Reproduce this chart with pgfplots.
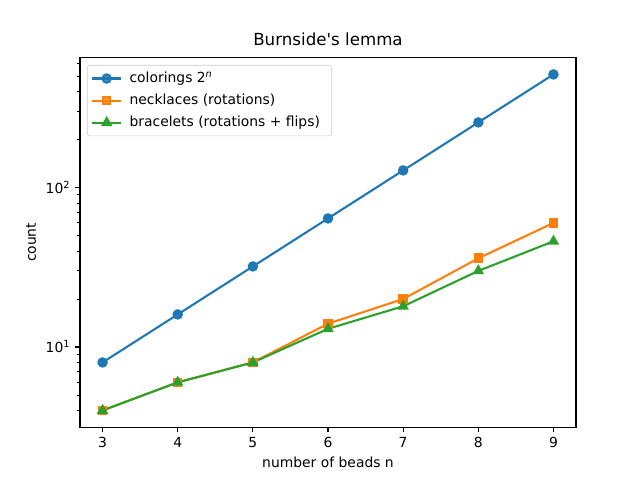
\documentclass[border=0pt]{standalone}
\usepackage{pgfplots}
\pgfplotsset{compat=1.18}
\usepackage{fontspec}
\setmainfont{DejaVu Sans}
\definecolor{tabblue}{HTML}{1F77B4}
\definecolor{taborange}{HTML}{FF7F0E}
\definecolor{tabgreen}{HTML}{2CA02C}
\begin{document}
\begin{tikzpicture}
\begin{axis}[
    scale only axis,
    width=357.12pt, height=266.11pt,
    ymode=log,
    xmin=2.7, xmax=9.3,
    ymin=3.14, ymax=653,
    xtick={3,4,5,6,7,8,9},
    ytick={10,100},
    yticklabels={10\textsuperscript{1},10\textsuperscript{2}},
    minor ytick={4,5,6,7,8,9,20,30,40,50,60,70,80,90,200,300,400,500,600},
    /pgf/number format/assume math mode=true,
    tick align=outside,
    tick pos=left,
    major tick length=3.5pt,
    minor tick length=2pt,
    every tick/.style={black, line width=0.8pt},
    minor tick style={line width=0.6pt},
    axis line style={line width=0.8pt},
    tick label style={font=\fontsize{10}{12}\selectfont},
    label style={font=\fontsize{10}{12}\selectfont},
    title style={font=\fontsize{12}{14}\selectfont, yshift=-1pt},
    title={Burnside\textquotesingle s lemma},
    xlabel={number of beads n},
    ylabel={count},
    legend style={at={(0.014,0.98)}, anchor=north west, draw=black!20, rounded corners=2pt,
        fill=white, fill opacity=0.8, text opacity=1, font=\fontsize{10}{12}\selectfont,
        inner xsep=3pt, inner ysep=3pt, row sep=2.8pt,
        nodes={inner xsep=5.5pt}},
    legend cell align=left,
    legend image code/.code={%
        \draw[mark repeat=2,mark phase=2] plot coordinates {(0cm,0cm)(0.36cm,0cm)(0.72cm,0cm)};},
    clip=false,
]
\path (rel axis cs:-0.1613,-0.1429) rectangle (rel axis cs:1.129,1.1558);
\addplot[color=tabblue, line width=1.5pt, mark=*, mark size=3pt] coordinates {
(3,8)(4,16)(5,32)(6,64)(7,128)(8,256)(9,512)};
\addlegendentry{colorings 2\textsuperscript{\textit{n}}}
\addplot[color=taborange, line width=1.5pt, mark=square*, mark size=2.7pt] coordinates {
(3,4)(4,6)(5,8)(6,14)(7,20)(8,36)(9,60)};
\addlegendentry{necklaces (rotations)}
\addplot[color=tabgreen, line width=1.5pt, mark=triangle*, mark size=3.3pt] coordinates {
(3,4)(4,6)(5,8)(6,13)(7,18)(8,30)(9,46)};
\addlegendentry{bracelets (rotations + flips)}
\end{axis}
\end{tikzpicture}
\end{document}
